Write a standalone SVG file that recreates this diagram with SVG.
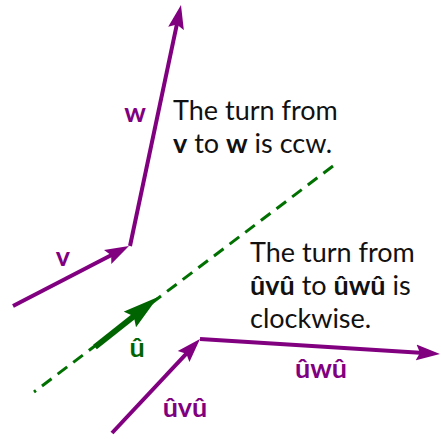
<svg xmlns="http://www.w3.org/2000/svg" width="441" height="439" viewBox="0 0 441 439">
  <style>
    .vec { stroke: #800080; stroke-width: 4; fill: none; }
    .txt { font-family: Lato, "Open Sans", "DejaVu Sans", sans-serif; font-size: 27px; fill: #111; }
    .lbl { font-family: Lato, "Open Sans", "DejaVu Sans", sans-serif; font-size: 27px; font-weight: bold; }
    .pl { fill: #800080; }
    .gl { fill: #006400; }
  </style>
  <defs>
    <marker id="ap" markerUnits="userSpaceOnUse" viewBox="0 0 24 18" markerWidth="24" markerHeight="18" refX="12" refY="9" orient="auto">
      <path d="M0,1 L24,9 L0,17 L4,9 Z" fill="#800080"/>
    </marker>
    <marker id="ag" markerUnits="userSpaceOnUse" viewBox="0 0 36 20" markerWidth="36" markerHeight="20" refX="20" refY="10" orient="auto">
      <path d="M0,0 L36,10 L0,20 L5,10 Z" fill="#006400"/>
    </marker>
  </defs>
  <g id="connectors">
    <line id="dashed-axis" x1="333" y1="166" x2="34" y2="392" stroke="#007000" stroke-width="3" stroke-dasharray="12 7.6"/>
    <line id="u-hat" x1="95" y1="347" x2="145.5" y2="307" stroke="#006400" stroke-width="6" marker-end="url(#ag)"/>
    <line id="v-vec" class="vec" x1="13" y1="306" x2="118.3" y2="251.5" marker-end="url(#ap)"/>
    <line id="w-vec" class="vec" x1="130" y1="246" x2="178.5" y2="16.7" marker-end="url(#ap)"/>
    <line id="uvu-vec" class="vec" x1="112" y1="433" x2="191.8" y2="347.8" marker-end="url(#ap)"/>
    <line id="uwu-vec" class="vec" x1="200" y1="339" x2="428" y2="353.25" marker-end="url(#ap)"/>
  </g>
  <g id="label-w"><text class="lbl pl" x="135" y="122" text-anchor="middle">w</text></g>
  <g id="label-v"><text class="lbl pl" x="63" y="266" text-anchor="middle">v</text></g>
  <g id="label-u"><text class="lbl gl" x="137" y="357" text-anchor="middle">û</text></g>
  <g id="label-uvu"><text class="lbl pl" x="185" y="417" text-anchor="middle">ûvû</text></g>
  <g id="label-uwu"><text class="lbl pl" x="321" y="378" text-anchor="middle">ûwû</text></g>
  <g id="note-ccw">
    <text class="txt" x="173" y="120">The turn from</text>
    <text class="txt" x="173" y="153"><tspan font-weight="bold">v</tspan> to <tspan font-weight="bold">w</tspan> is ccw.</text>
  </g>
  <g id="note-cw">
    <text class="txt" x="250" y="262">The turn from</text>
    <text class="txt" x="250" y="295"><tspan font-weight="bold">ûvû</tspan> to <tspan font-weight="bold">ûwû</tspan> is</text>
    <text class="txt" x="250" y="328">clockwise.</text>
  </g>
</svg>
